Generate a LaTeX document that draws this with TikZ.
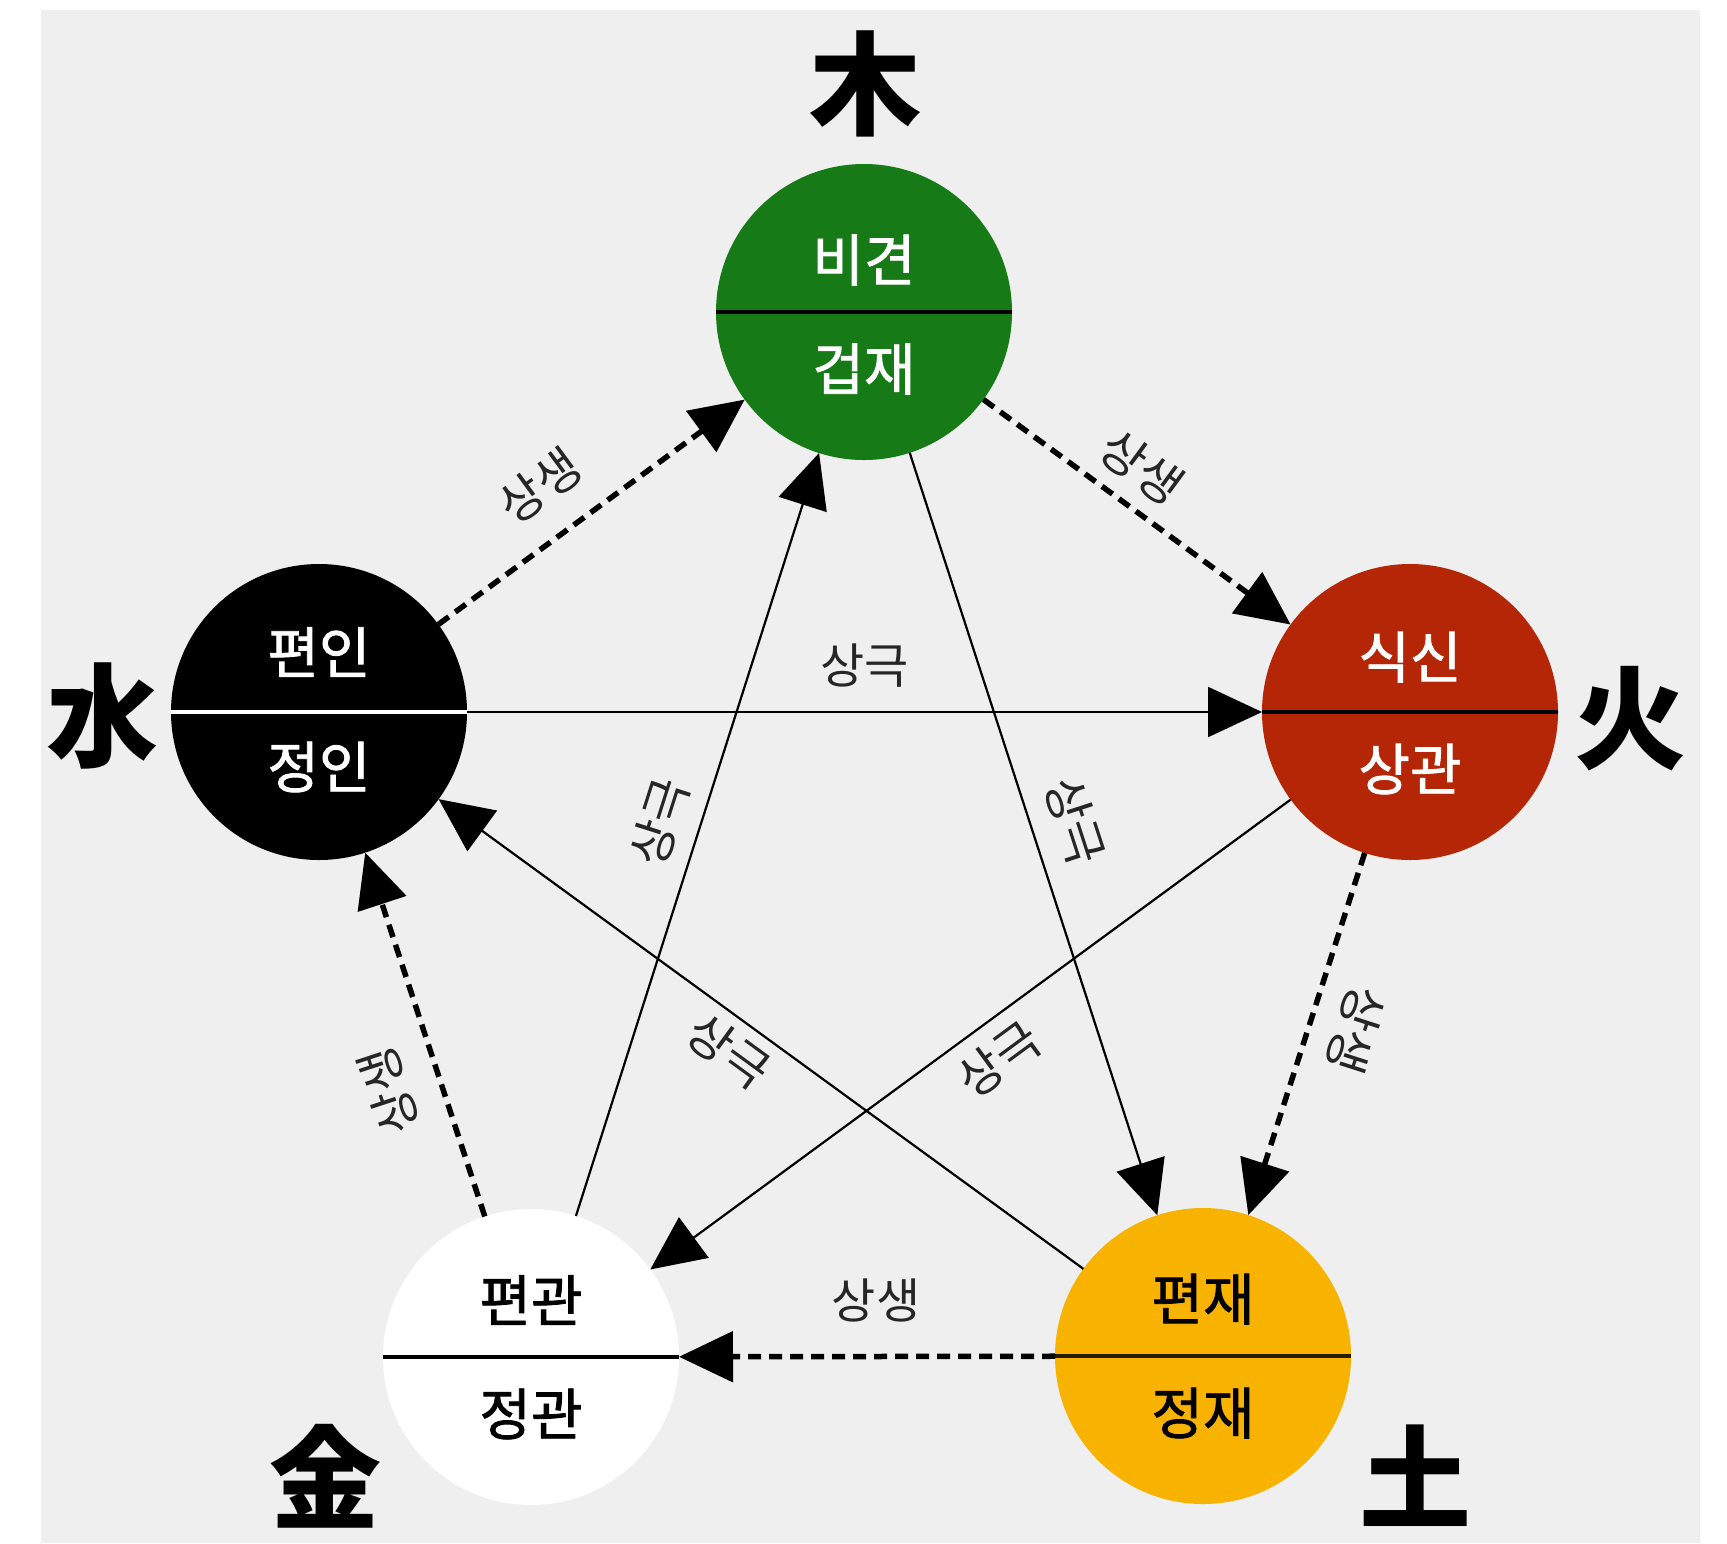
\documentclass[tikz,border=0pt]{standalone}
\usepackage{fontspec}
\setmainfont{Noto Sans CJK KR}
\newfontfamily\hanja{Noto Sans CJK KR}
\newfontfamily\cfont{Noto Sans CJK KR}[FakeBold=1.5]
\usetikzlibrary{arrows.meta,calc}
\definecolor{paper}{RGB}{239,239,239}
\definecolor{woodc}{RGB}{22,122,22}
\definecolor{firec}{RGB}{181,38,6}
\definecolor{earthc}{RGB}{248,178,0}
\begin{document}
\begin{tikzpicture}[x=1pt,y=-1pt,
  elem/.style={circle,minimum size=296pt,inner sep=0pt,outer sep=0pt},
  ctext/.style={font=\cfont\fontsize{56}{60}\selectfont, inner sep=0pt},
  hj/.style={font=\hanja\fontsize{112}{120}\selectfont\bfseries, inner sep=0pt},
  lbl/.style={font=\fontsize{48}{52}\selectfont, inner sep=0pt, text=black!85},
  divider/.style={line width=4pt},
  sheng/.style={line width=5.5pt, dash pattern=on 13pt off 8pt, -{Triangle[length=54pt,width=50pt]}},
  ke/.style={line width=2.2pt, -{Triangle[length=54pt,width=50pt]}},
  onl/.style={sloped, allow upside down}
]
\useasboundingbox (0,0) rectangle (1727,1543);
\fill[white] (0,0) rectangle (1727,1543);
\fill[paper] (41,10) rectangle (1700,1543);

% element circles
\node[elem, fill=woodc] (wood) at (864,312) {};
\node[elem, fill=firec] (fire) at (1410,712) {};
\node[elem, fill=black] (water) at (319,712) {};
\node[elem, fill=white] (metal) at (531,1357) {};
\node[elem, fill=earthc] (earth) at (1203,1356) {};

% dividers
\draw[divider] (wood.west) -- (wood.east);
\draw[divider, white] (water.west) -- (water.east);
\draw[divider] (fire.west) -- (fire.east);
\draw[divider] (metal.west) -- (metal.east);
\draw[divider, black!85!earthc] (earth.west) -- (earth.east);

% circle texts
\node[ctext, text=white] (woodU) at ($(wood)+(0,-52)$) {비견};
\node[ctext, text=white] (woodL) at ($(wood)+(0,57)$) {겁재};
\node[ctext, text=white] (fireU) at ($(fire)+(0,-55)$) {식신};
\node[ctext, text=white] (fireL) at ($(fire)+(0,57)$) {상관};
\node[ctext, text=white] (waterU) at ($(water)+(0,-60)$) {편인};
\node[ctext, text=white] (waterL) at ($(water)+(0,55)$) {정인};
\node[ctext, text=black] (metalU) at ($(metal)+(0,-57)$) {편관};
\node[ctext, text=black] (metalL) at ($(metal)+(0,57)$) {정관};
\node[ctext, text=black] (earthU) at ($(earth)+(0,-57)$) {편재};
\node[ctext, text=black] (earthL) at ($(earth)+(0,57)$) {정재};

% element characters
\node[hj] (mu) at (865,84) {木};
\node[hj] (huo) at (1630,719) {火};
\node[hj] (shui) at (102,716) {水};
\node[hj] (jin) at (325,1476) {金};
\node[hj] (tu) at (1415,1476) {土};

% generating cycle (dashed)
\draw[sheng] (water) -- node[lbl, onl, pos=.43, above=27pt] (s1) {상생} (wood);
\draw[sheng] (wood) -- node[lbl, onl, pos=.44, above=15pt] (s2) {상생} (fire);
\draw[sheng] (fire) -- node[lbl, onl, pos=.45, above=22pt] (s3) {상생} (earth);
\draw[sheng] (earth) -- node[lbl, pos=.476, above=32pt] (s4) {상생} (metal);
\draw[sheng] (metal) -- node[lbl, onl, pos=.39, above=28pt] (s5) {상생} (water);

% controlling cycle (solid)
\draw[ke] (water) -- node[lbl, onl, pos=.5, above=24pt] (k1) {상극} (fire);
\draw[ke] (fire) -- node[lbl, sloped, pos=.49, below=14pt] (k2) {상극} (metal);
\draw[ke] (metal) -- node[lbl, onl, pos=.5, above=17pt] (k3) {상극} (wood);
\draw[ke] (wood) -- node[lbl, onl, pos=.5, above=21pt] (k4) {상극} (earth);
\draw[ke] (earth) -- node[lbl, sloped, pos=.52, below=10pt] (k5) {상극} (water);
\end{tikzpicture}
\end{document}
